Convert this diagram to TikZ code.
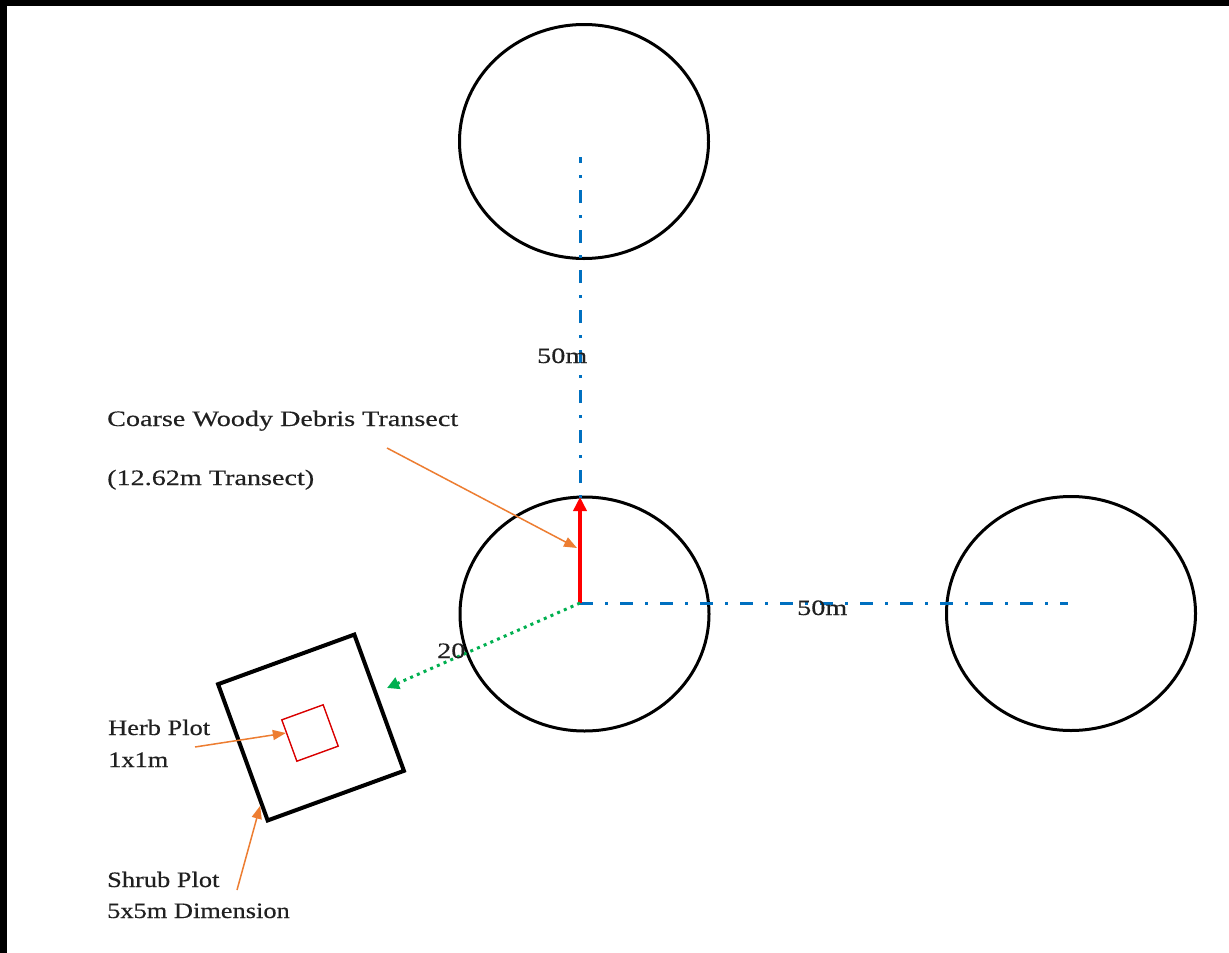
\documentclass[tikz,border=0pt]{standalone}
\usepackage{fontspec}
\newfontfamily\widefont[FakeStretch=1.28,FakeBold=0.4]{Liberation Serif}
\newfontfamily\plotfont[FakeStretch=1.2,FakeBold=0.4]{Liberation Serif}
\usetikzlibrary{shapes.geometric,arrows.meta}
\definecolor{lineblue}{HTML}{0070C0}
\definecolor{linegreen}{HTML}{00B050}
\definecolor{callout}{HTML}{ED7D31}
\definecolor{ink}{HTML}{202020}
\begin{document}
\begin{tikzpicture}[
		x=1pt,y=-1pt,
		plot/.style={ellipse,draw,line width=3pt,minimum width=249pt,minimum height=234pt,inner sep=0pt},
		square/.style={rectangle,draw,rotate=20,inner sep=0pt},
		transect/.style={lineblue,line width=3pt,dash pattern=on 13pt off 12pt on 3pt off 12pt},
		lbl/.style={anchor=base west,inner sep=0pt,text=ink,font=\widefont\fontsize{22}{26}\selectfont},
		plotlbl/.style={anchor=base west,inner sep=0pt,text=ink,font=\plotfont\fontsize{22}{26}\selectfont},
		pointer/.style={callout,line width=1.5pt,-{Triangle[length=13pt,width=10pt]}}
	]
	\fill[white] (0,0) rectangle (1229,953);
	\fill[black] (0,0) rectangle (1229,6);
	\fill[black] (0,0) rectangle (7,953);

	\node[plot] (north) at (584,141.5) {};
	\node[plot] (middle) at (584.5,614) {};
	\node[plot] (east) at (1071,613.5) {};

	\node[square,line width=4pt,minimum size=145pt] (shrub) at (311,727.5) {};
	\node[square,draw=red!85!black,line width=1.4pt,minimum size=44pt] (herb) at (310,733) {};

	\coordinate (origin) at (580,603);
	\coordinate (northend) at (580,157);
	\coordinate (eastend) at (1068,603);
	\coordinate (cwdtip) at (580,497);
	\coordinate (offset) at (387,688);

	\draw[transect] (origin) -- (northend);
	\draw[transect] (origin) -- (eastend);
	\draw[red,line width=3.5pt,-{Triangle[length=14pt,width=13pt]}] (origin) -- (cwdtip);
	\draw[linegreen,line width=3pt,dash pattern=on 3pt off 4.3pt,-{Triangle[length=12pt,width=12pt]}] (origin) -- (offset);

	\node[lbl] (north50) at (537,363) {50m};
	\node[lbl] (east50) at (797,615) {50m};
	\node[lbl] (dist) at (437,658) {20};

	\node[lbl] (cwd) at (107,426) {Coarse Woody Debris Transect};
	\node[lbl] (cwdlen) at (107,485) {(12.62m Transect)};
	\node[plotlbl] (herblbl) at (108,735) {Herb Plot};
	\node[plotlbl] (herbsize) at (108,767) {1x1m};
	\node[plotlbl] (shrublbl) at (107,887) {Shrub Plot};
	\node[plotlbl] (shrubsize) at (107,918) {5x5m Dimension};

	\coordinate (cwdfrom) at (387,448);
	\coordinate (herbfrom) at (195,747);
	\coordinate (shrubfrom) at (237,890);
	\draw[pointer] (cwdfrom) -- (577,548);
	\draw[pointer] (herbfrom) -- (herb.160);
	\draw[pointer] (shrubfrom) -- (shrub.217);
\end{tikzpicture}
\end{document}
